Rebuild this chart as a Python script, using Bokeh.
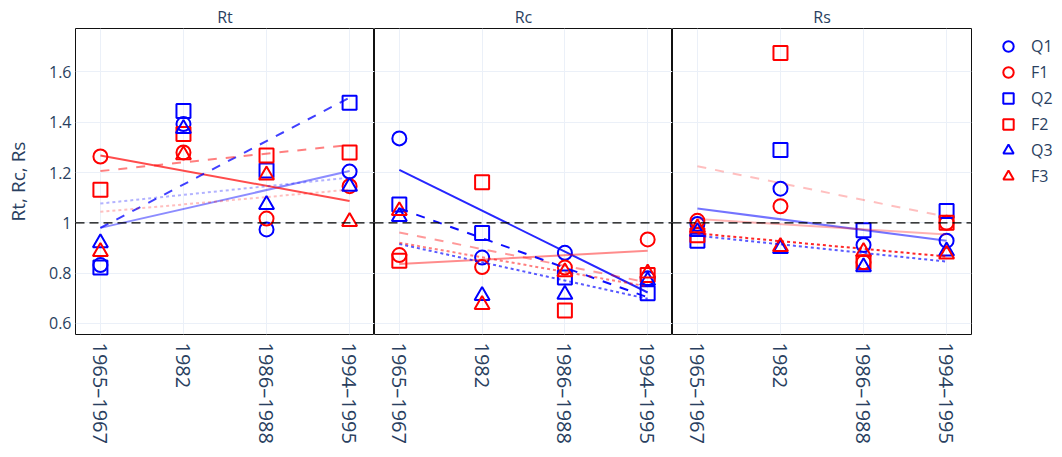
import math
from bokeh.plotting import figure
from bokeh.models import FactorRange, Range1d, FixedTicker, Span, Legend, LegendItem
from bokeh.layouts import row
from bokeh.embed import file_html
from bokeh.resources import INLINE

periods = ["1965–1967", "1982", "1986–1988", "1994–1995"]
panels = ["Rt", "Rc", "Rs"]
series = ["Q1", "F1", "Q2", "F2", "Q3", "F3"]
y_ticks = [0.6, 0.8, 1.0, 1.2, 1.4, 1.6]
y_tick_labels = ["0.6", "0.8", "1", "1.2", "1.4", "1.6"]

# ---- Rt panel values
rt_Q1 = [0.832, 1.393, 0.974, 1.204]
rt_F1 = [1.264, 1.280, 1.017, 1.146]
rt_Q2 = [0.822, 1.445, 1.208, 1.478]
rt_F2 = [1.132, 1.353, 1.268, 1.280]
rt_Q3 = [0.920, 1.375, 1.072, 1.145]
rt_F3 = [0.885, 1.270, 1.190, 1.005]

# ---- Rc panel values
rc_Q1 = [1.336, 0.862, 0.881, 0.780]
rc_F1 = [0.872, 0.824, 0.822, 0.934]
rc_Q2 = [1.073, 0.960, 0.783, 0.720]
rc_F2 = [0.849, 1.162, 0.651, 0.793]
rc_Q3 = [1.025, 0.710, 0.715, 0.770]
rc_F3 = [1.048, 0.675, 0.805, 0.800]

# ---- Rs panel values
rs_Q1 = [0.995, 1.136, 0.912, 0.929]
rs_F1 = [1.008, 1.066, 0.843, 1.000]
rs_Q2 = [0.929, 1.290, 0.971, 1.047]
rs_F2 = [0.951, 1.676, 0.843, 1.000]
rs_Q3 = [0.965, 0.897, 0.825, 0.887]
rs_F3 = [0.980, 0.905, 0.885, 0.875]

# ---- trend lines (value at first period, value at last period)
rt_trend = {"Q1": [0.980, 1.206], "F1": [1.268, 1.087], "Q2": [0.980, 1.498],
            "F2": [1.206, 1.310], "Q3": [1.077, 1.180], "F3": [1.044, 1.132]}
rc_trend = {"Q1": [1.211, 0.723], "F1": [0.836, 0.889], "Q2": [1.057, 0.704],
            "F2": [0.962, 0.763], "Q3": [0.916, 0.698], "F3": [0.921, 0.747]}
rs_trend = {"Q1": [1.057, 0.929], "F1": [1.015, 0.954],
            "F2": [1.225, 1.024], "Q3": [0.949, 0.846], "F3": [0.958, 0.866]}

values = {
    "Rt": {"Q1": rt_Q1, "F1": rt_F1, "Q2": rt_Q2, "F2": rt_F2, "Q3": rt_Q3, "F3": rt_F3},
    "Rc": {"Q1": rc_Q1, "F1": rc_F1, "Q2": rc_Q2, "F2": rc_F2, "Q3": rc_Q3, "F3": rc_F3},
    "Rs": {"Q1": rs_Q1, "F1": rs_F1, "Q2": rs_Q2, "F2": rs_F2, "Q3": rs_Q3, "F3": rs_F3},
}
trends = {"Rt": rt_trend, "Rc": rc_trend, "Rs": rs_trend}

# ---- styles
trend_alpha = {
    "Rt": {"Q1": 0.45, "F1": 0.70, "Q2": 0.75, "F2": 0.50, "Q3": 0.30, "F3": 0.25},
    "Rc": {"Q1": 0.85, "F1": 0.45, "Q2": 0.95, "F2": 0.40, "Q3": 0.65, "F3": 0.50},
    "Rs": {"Q1": 0.55, "F1": 0.30, "F2": 0.25, "Q3": 0.65, "F3": 0.85},
}
color_of = {"Q": "#0000ff", "F": "#ff0000"}
marker_of = {"1": "circle", "2": "square", "3": "triangle"}
size_of = {"1": 14, "2": 14, "3": 15}
dash_of = {"1": "solid", "2": "9 9", "3": "3 3"}

FONT = "Open Sans"
TXT = "#2a3f5f"
GRID = "#EBF0F8"
H = 449
TOP = 28
BOTTOM = 115
FRAME_W = [299, 298, 299]
LEFT = [75, 0, 0]
RIGHT = [0, 0, 1]

figs = []
for i, name in enumerate(panels):
    p = figure(
        x_range=FactorRange(*periods, range_padding=-0.2, range_padding_units="absolute"),
        y_range=Range1d(0.556, 1.773),
        width=LEFT[i] + FRAME_W[i] + RIGHT[i], height=H,
        output_backend="svg", toolbar_location=None,
        min_border_left=LEFT[i], min_border_right=RIGHT[i],
        min_border_top=TOP, min_border_bottom=BOTTOM,
        title=name,
    )
    p.title.align = "center"
    p.title.text_font = FONT
    p.title.text_font_size = "16px"
    p.title.text_font_style = "normal"
    p.title.text_color = TXT
    p.title.standoff = 2

    p.background_fill_color = "white"
    p.border_fill_color = "white"
    p.outline_line_color = "#111111"
    p.outline_line_width = 1

    p.xgrid.grid_line_color = GRID
    p.ygrid.grid_line_color = GRID
    p.ygrid.ticker = FixedTicker(ticks=y_ticks)

    xa = p.xaxis[0]
    xa.major_label_orientation = -math.pi / 2
    xa.major_label_text_font = FONT
    xa.major_label_text_font_size = "20px"
    xa.major_label_text_color = TXT
    xa.major_label_standoff = 8
    xa.major_tick_line_color = None
    xa.major_tick_out = 0
    xa.major_tick_in = 0
    xa.axis_line_color = None

    ya = p.yaxis[0]
    ya.ticker = FixedTicker(ticks=y_ticks)
    if i == 0:
        ya.major_label_overrides = {t: l for t, l in zip(y_ticks, y_tick_labels)}
        ya.major_label_text_font = FONT
        ya.major_label_text_font_size = "16px"
        ya.major_label_text_color = TXT
        ya.major_label_standoff = 4
        ya.major_tick_line_color = None
        ya.minor_tick_line_color = None
        ya.major_tick_out = 0
        ya.major_tick_in = 0
        ya.minor_tick_out = 0
        ya.axis_line_color = None
        ya.axis_label = "Rt, Rc, Rs"
        ya.axis_label_text_font = FONT
        ya.axis_label_text_font_size = "19px"
        ya.axis_label_text_font_style = "normal"
        ya.axis_label_text_color = TXT
        ya.axis_label_standoff = 15
    else:
        ya.visible = False

    for s in series:
        p.scatter(x=periods, y=values[name][s], marker=marker_of[s[1]], size=size_of[s[1]],
                  fill_color=None, line_color=color_of[s[0]], line_width=2)
    for s in series:
        if s in trends[name]:
            a, b = trends[name][s]
            p.line(x=[periods[0], periods[-1]], y=[a, b], line_color=color_of[s[0]],
                   line_alpha=trend_alpha[name][s], line_width=2, line_dash=dash_of[s[1]])

    p.add_layout(Span(location=1.0, dimension="width", line_color="black",
                      line_width=1.2, line_dash="9 5"))
    figs.append(p)

# ---- legend panel (marker key only; swatch renderers hold no visible points)
pl = figure(width=88, height=H, output_backend="svg", toolbar_location=None,
            x_range=Range1d(0, 1), y_range=Range1d(0, 1),
            min_border_left=0, min_border_right=0, min_border_top=TOP, min_border_bottom=BOTTOM)
pl.axis.visible = False
pl.grid.visible = False
pl.outline_line_color = None
items = []
for s in series:
    r = pl.scatter(x=[float("nan")], y=[float("nan")], marker=marker_of[s[1]], size=14,
                   fill_color=None, line_color=color_of[s[0]], line_width=2)
    items.append(LegendItem(label=s, renderers=[r]))
legend = Legend(items=items, location=(23, 145), padding=5, margin=0, spacing=0,
                glyph_height=26, glyph_width=26, label_height=26, label_standoff=10,
                label_text_font=FONT, label_text_font_size="16px", label_text_color=TXT,
                border_line_color=None, background_fill_alpha=0)
pl.add_layout(legend)
figs.append(pl)

layout = row(*figs)
open("out.html", "w").write(file_html(layout, INLINE))
